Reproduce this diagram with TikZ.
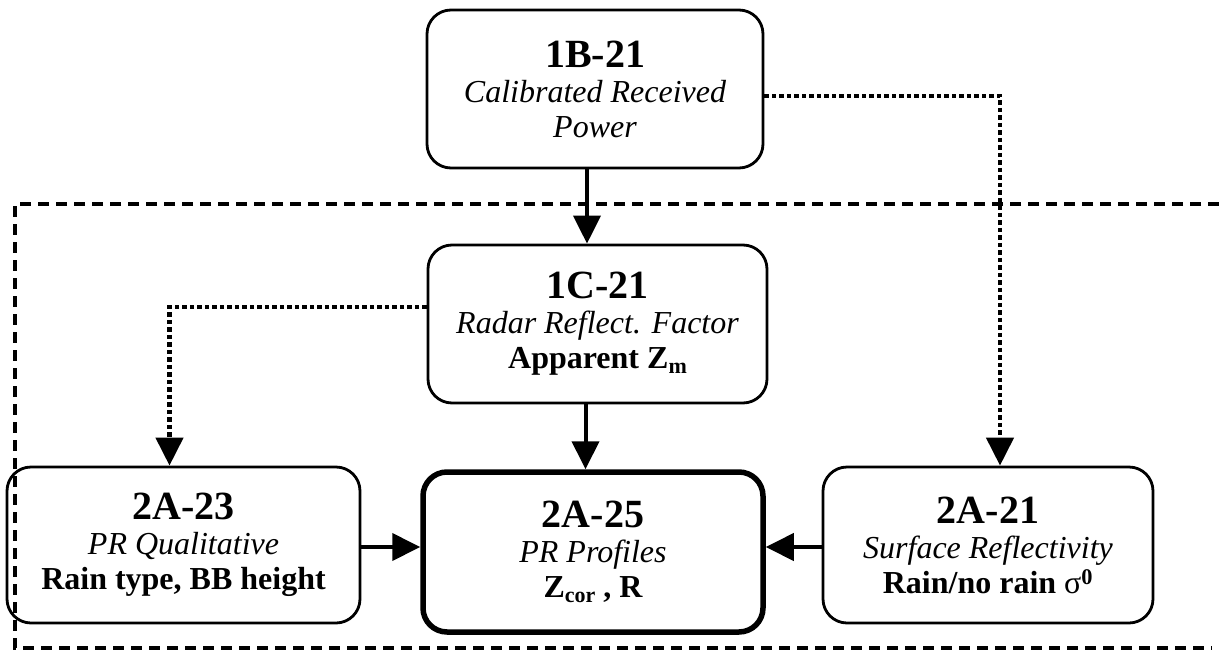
\documentclass[tikz,border=0pt]{standalone}
\usepackage{fontspec}
\setmainfont{Liberation Serif}
\usetikzlibrary{arrows.meta}
\newcommand{\ttlfont}{\fontsize{40}{34}\selectfont\bfseries}
\newcommand{\itfont}{\fontsize{32}{35}\selectfont\itshape}
\newcommand{\bffont}{\fontsize{32}{35}\selectfont\bfseries}
\newcommand{\subsc}[1]{\raisebox{-0.3ex}{\fontsize{22}{22}\selectfont\bfseries #1}}
\begin{document}
\begin{tikzpicture}[x=1pt,y=-1pt,
  procbox/.style={draw=black, line width=2.8pt, rounded corners=24pt, align=center,
    inner sep=0pt, font=\fontsize{32}{35}\selectfont},
  mainbox/.style={procbox, line width=5.5pt},
  solidarrow/.style={line width=4pt, -{Triangle[length=28pt,width=27pt]}},
  dotarrow/.style={line width=4.5pt, dash pattern=on 4.5pt off 3pt, -{Triangle[length=28pt,width=27pt]}},
  frameline/.style={line width=3.5pt, dash pattern=on 11pt off 7pt}
]
\useasboundingbox (0,0) rectangle (1219,654);

% dashed frame
\draw[frameline] (1219,204) -- (15,204) -- (15,648) -- (1212,648);

\node[procbox, minimum width=336pt, minimum height=158pt] (b1) at (595,89)
  {{\ttlfont 1B-21}\\{\itfont Calibrated Received}\\{\itfont Power}};
\node[procbox, minimum width=339pt, minimum height=158pt] (c1) at (597.5,324)
  {{\ttlfont 1C-21}\\{\itfont Radar Reflect. Factor}\\{\bffont Apparent Z\subsc{m}}};
\node[procbox, minimum width=353pt, minimum height=156pt] (a23) at (183.5,545)
  {{\ttlfont 2A-23}\\{\itfont PR Qualitative}\\{\bffont Rain type, BB height}};
\node[mainbox, minimum width=340pt, minimum height=160pt] (a25) at (593,552)
  {{\ttlfont 2A-25}\\{\itfont PR Profiles}\\{\bffont Z\subsc{cor} , R}};
\node[procbox, minimum width=330pt, minimum height=156pt] (a21) at (988,545)
  {{\ttlfont 2A-21}\\{\itfont Surface Reflectivity}\\{\bffont Rain/no rain {\mdseries σ}\textsuperscript{0}}};

% solid connectors
\draw[solidarrow] ([xshift=-8pt]b1.south) -- ([xshift=-8pt]b1.south |- c1.north);
\draw[solidarrow] ([xshift=-12pt]c1.south) -- ([xshift=-12pt]c1.south |- a25.north);
\draw[solidarrow] ([yshift=-2pt]a23.east) -- ([yshift=-2pt]a23.east -| a25.west);
\draw[solidarrow] ([yshift=-2pt]a21.west) -- ([yshift=-2pt]a21.west -| a25.east);

% dotted connectors
\draw[dotarrow] ([yshift=17pt]c1.west) -| ([xshift=-14pt]a23.north);
\draw[dotarrow] ([yshift=-7pt]b1.east) -| ([xshift=12pt]a21.north);
\end{tikzpicture}
\end{document}
